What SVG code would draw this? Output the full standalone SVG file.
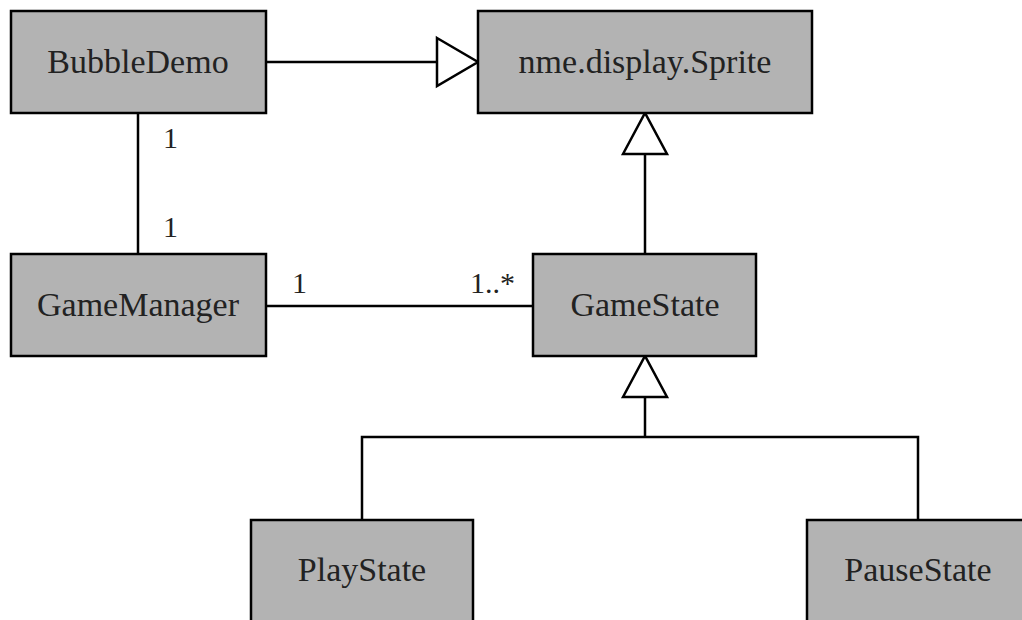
<svg xmlns="http://www.w3.org/2000/svg" width="1022" height="620" viewBox="0 0 1022 620">
  <style>
    .box { fill: #b3b3b3; stroke: #000; stroke-width: 2.5; }
    .name { font-family: "Liberation Serif", serif; font-size: 34px; fill: #222; text-anchor: middle; }
    .mult { font-family: "Liberation Serif", serif; font-size: 30px; fill: #222; }
    .edge { fill: none; stroke: #000; stroke-width: 2.5; }
    .head { fill: #fff; stroke: #000; stroke-width: 2.5; stroke-linejoin: miter; }
  </style>
  <rect width="1022" height="620" fill="#fff"/>

  <!-- connectors -->
  <g id="connectors">
    <!-- BubbleDemo extends Sprite -->
    <line class="edge" x1="266" y1="62" x2="437" y2="62"/>
    <polygon class="head" points="437,38 478,62 437,86"/>
    <!-- GameState extends Sprite -->
    <line class="edge" x1="645" y1="154" x2="645" y2="254"/>
    <polygon class="head" points="623,154 645,113 667,154"/>
    <!-- BubbleDemo - GameManager association -->
    <line class="edge" x1="138" y1="113" x2="138" y2="254"/>
    <text class="mult" x="163" y="148">1</text>
    <text class="mult" x="163" y="237">1</text>
    <!-- GameManager - GameState association -->
    <line class="edge" x1="266" y1="306" x2="533" y2="306"/>
    <text class="mult" x="292" y="293">1</text>
    <text class="mult" x="470" y="293">1..*</text>
    <!-- PlayState / PauseState extend GameState -->
    <polygon class="head" points="623,397 645,356 667,397"/>
    <polyline class="edge" points="645,397 645,437"/>
    <polyline class="edge" points="362,520 362,437 918,437 918,520"/>
  </g>

  <g id="BubbleDemo">
    <rect class="box" x="11" y="11" width="255" height="102"/>
    <text class="name" x="138" y="73">BubbleDemo</text>
  </g>

  <g id="Sprite">
    <rect class="box" x="478" y="11" width="334" height="102"/>
    <text class="name" x="645" y="73">nme.display.Sprite</text>
  </g>

  <g id="GameManager">
    <rect class="box" x="11" y="254" width="255" height="102"/>
    <text class="name" x="138" y="316">GameManager</text>
  </g>

  <g id="GameState">
    <rect class="box" x="533" y="254" width="223" height="102"/>
    <text class="name" x="645" y="316">GameState</text>
  </g>

  <g id="PlayState">
    <rect class="box" x="251" y="520" width="222" height="110"/>
    <text class="name" x="362" y="581">PlayState</text>
  </g>

  <g id="PauseState">
    <rect class="box" x="807" y="520" width="222" height="110"/>
    <text class="name" x="918" y="581">PauseState</text>
  </g>
</svg>
